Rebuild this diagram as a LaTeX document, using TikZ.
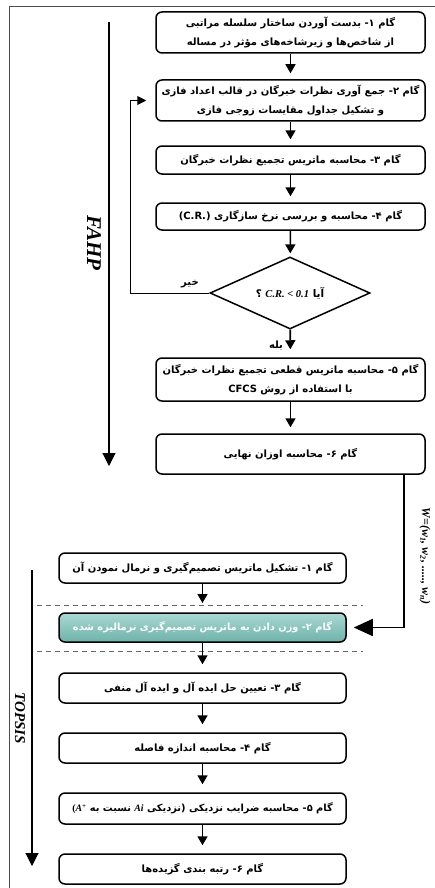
\documentclass[tikz,border=0pt]{standalone}
\usepackage{fontspec}
\usepackage{xcolor}
\usetikzlibrary{positioning, arrows.meta, shapes.geometric}
\newfontfamily\fafont[Script=Arabic]{DejaVu Sans}
\newfontfamily\enfont{Liberation Serif}
\TeXXeTstate=1
\newcommand{\fa}[1]{{\fafont\bfseries\beginR #1\endR}}
\newcommand{\gam}[1]{گام #1\kern0pt-}
\definecolor{tealtop}{HTML}{A9D9D3}
\definecolor{tealbot}{HTML}{6EB2AA}

\begin{document}
\begin{tikzpicture}[x=1pt, y=-1pt,
    box/.style={draw, line width=1.5pt, rounded corners=6pt, inner sep=0pt, align=center,
        font=\fontsize{10}{19}\selectfont},
    fbox/.style={box, minimum width=269pt},
    tbox/.style={box, minimum width=287pt, minimum height=30pt},
    flow/.style={line width=1.6pt, -{Triangle[width=10pt,length=9pt]}, shorten >=6pt},
    phase/.style={line width=1.1pt, -{Triangle[width=13pt,length=13pt]}},
    phaselabel/.style={rotate=-90, font=\enfont\bfseries\itshape\fontsize{21}{21}\selectfont},
    cutline/.style={black!60, dashed, line width=0.9pt, dash pattern=on 5pt off 4pt}
]
\useasboundingbox[fill=white] (0,0) rectangle (435,888);
% frame
\draw[black!70, line width=0.8pt] (9,888) -- (9,6) -- (435,6);
% FAHP steps
\node[fbox, minimum height=41pt] (f1) at (290.5,32.5)
    {\fa{\gam{۱} بدست آوردن ساختار سلسله مراتبی}\\\fa{از شاخص‌ها و زیرشاخه‌های مؤثر در مساله}};
\node[fbox, minimum height=41pt] (f2) at (290.5,100.5)
    {\fa{\gam{۲} جمع آوری نظرات خبرگان در قالب اعداد فازی}\\\fa{و تشکیل جداول مقایسات زوجی فازی}};
\node[fbox, minimum height=28pt] (f3) at (290.5,160)
    {\fa{\gam{۳} محاسبه ماتریس تجمیع نظرات خبرگان}};
\node[fbox, minimum height=27pt] (f4) at (290.5,216.5)
    {\fa{\gam{۴} محاسبه و بررسی نرخ سازگاری \beginL(C.R.)\endL}};
\node[draw, diamond, aspect=2.2, line width=1.5pt, minimum width=160pt, minimum height=72pt,
    inner sep=0pt, font=\fontsize{10.5}{12}\selectfont] (dia) at (290,293)
    {\fa{آیا \beginL{\enfont\bfseries\itshape C.R. < 0.1}\endL{} ؟}};
\node[fbox, minimum height=43pt] (f5) at (290.5,379.5)
    {\fa{\gam{۵} محاسبه ماتریس قطعی تجمیع نظرات خبرگان}\\\fa{با استفاده از روش \beginL CFCS\endL}};
\node[fbox, minimum height=40pt] (f6) at (290.5,454)
    {\fa{\gam{۶} محاسبه اوزان نهایی}};
% TOPSIS steps
\node[tbox] (t1) at (202.5,568)
    {\fa{\gam{۱} تشکیل ماتریس تصمیم‌گیری و نرمال نمودن آن}};
\node[tbox, minimum height=29pt, top color=tealtop, bottom color=tealbot, text=white,
    font=\fontsize{9.8}{12}\selectfont] (t2) at (202.5,627.5)
    {\fa{\gam{۲} وزن دادن به ماتریس تصمیم‌گیری نرمالیزه شده}};
\node[tbox] (t3) at (202.5,688)
    {\fa{\gam{۳} تعیین حل ایده آل و ایده آل منفی}};
\node[tbox] (t4) at (202.5,748)
    {\fa{\gam{۴} محاسبه اندازه فاصله}};
\node[tbox, minimum height=31pt, font=\fontsize{9.8}{12}\selectfont] (t5) at (202.5,808.5)
    {\fa{\gam{۵} محاسبه ضرایب نزدیکی (نزدیکی \beginL{\enfont\bfseries\itshape Ai}\endL{} نسبت به \beginL{\enfont\bfseries(\itshape A\textsuperscript{+}}\endL}};
\node[tbox] (t6) at (202.5,869)
    {\fa{\gam{۶} رتبه بندی گزیده‌ها}};
% dashed band
\draw[cutline] (37,605) -- (363,605);
\draw[cutline] (37,651) -- (363,651);
% arrows
\draw[flow] (f1) -- (f2);
\draw[flow] (f2) -- (f3);
\draw[flow] (f3) -- (f4);
\draw[flow, shorten >=3pt] (f4) -- (dia);
\draw[flow, shorten >=8pt] (dia) -- (f5);
\draw[flow] (f5) -- (f6);
\draw[flow, shorten >=2pt] (t1) -- (t1 |- 0,605);
\draw[flow, shorten >=8pt] (t2) -- (t3);
\draw[flow, shorten >=8pt] (t3) -- (t4);
\draw[flow, shorten >=8pt] (t4) -- (t5);
\draw[flow, shorten >=8pt] (t5) -- (t6);
% loop back
\coordinate (back) at (130,293);
\draw[line width=1pt, -{Triangle[width=9pt,length=9pt]}, shorten >=9pt] (dia.west) -- (back) |- (f2.west);
\node[font=\fontsize{10}{10}\selectfont] (no) at (190,284) {\fa{خیر}};
\node[font=\fontsize{10}{10}\selectfont] (yes) at (276,346) {\fa{بله}};
% weights to TOPSIS
\coordinate (wtop) at (404,474);
\draw[line width=1.6pt, -{Triangle[width=17pt,length=19pt]}, shorten >=7pt] (wtop) |- (t2.east);
\node[rotate=-90, font=\enfont\bfseries\itshape\fontsize{12}{12}\selectfont] (wvec) at (425,556)
    {W=(w\textsubscript{1}, w\textsubscript{2}, ....., w\textsubscript{n})};
% phases
\draw[phase] (109,22) -- (109,466);
\draw[phase] (32,570) -- (32,866);
\node[phaselabel] (fahp) at (94,243) {FAHP};
\node[phaselabel, font=\enfont\bfseries\itshape\fontsize{15}{15}\selectfont] (topsis) at (20,718) {TOPSIS};
\end{tikzpicture}
\end{document}
